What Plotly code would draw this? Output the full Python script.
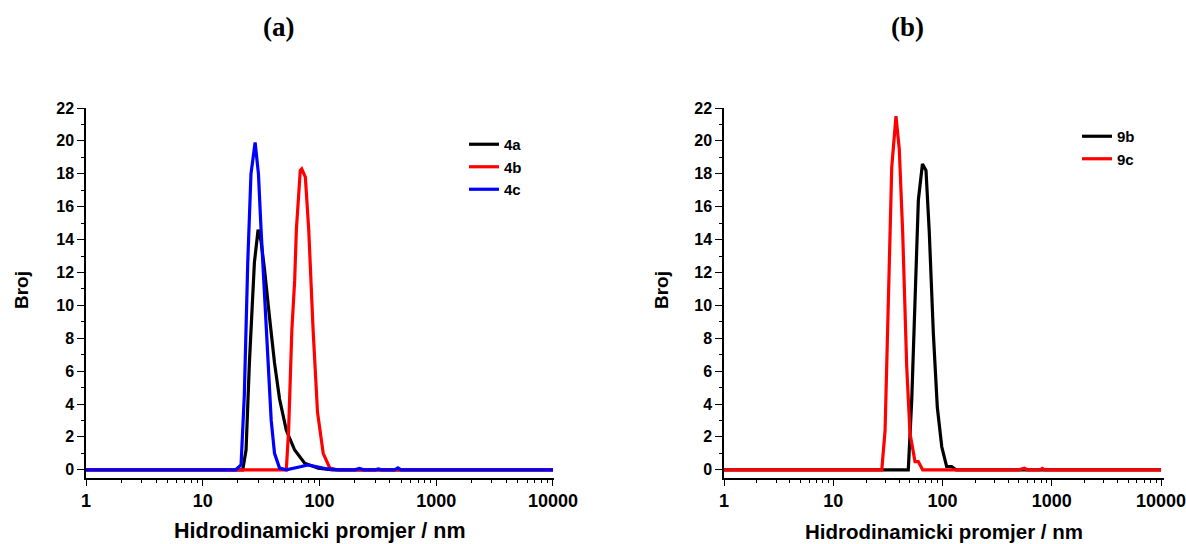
import plotly.graph_objects as go

# ---------------- data ----------------
# Panel (a)
x_4a = [1, 20, 22, 23.5, 25.1, 27.7, 29.8, 31.6, 33.8, 37.3, 41.2, 45.5, 52, 61.3, 74.7, 97.4, 130, 10000]
y_4a = [0, 0, 0, 1.2, 6.5, 12.6, 14.6, 13.9, 12.2, 9.3, 6.5, 4.3, 2.4, 1.2, 0.4, 0.1, 0, 0]

x_4b = [1, 52, 54.4, 58, 61.3, 63.4, 68.5, 70.5, 75.7, 80.9, 88.2, 96.2, 107.6, 122.7, 140, 10000]
y_4b = [0, 0, 2.4, 8.5, 11.5, 14.6, 18.2, 18.3, 17.8, 14.6, 8.5, 3.5, 1.0, 0.1, 0, 0]

x_4c = [1, 19.2, 21.3, 22.7, 24.3, 25.9, 28.1, 30, 31.6, 33.8, 36.1, 38.6, 41.2, 45.5, 52, 60, 70, 79.5,
        94, 117, 150, 200, 220, 240, 300, 320, 340, 440, 470, 500, 10000]
y_4c = [0, 0, 0.3, 4.5, 12.6, 18.0, 19.9, 18.0, 14.6, 10.5, 6.5, 3.0, 1.0, 0.1, 0, 0.08, 0.2, 0.3,
        0.2, 0.05, 0, 0, 0.08, 0, 0, 0.05, 0, 0, 0.12, 0, 0]

# Panel (b)
x_9b = [1, 48.6, 52.3, 56, 60.1, 65.5, 70.6, 75.7, 82.4, 89.6, 98.4, 109, 121, 133, 10000]
y_9b = [0, 0, 4.3, 10.3, 16.4, 18.6, 18.2, 14.4, 8.3, 3.8, 1.4, 0.2, 0.2, 0, 0]

x_9c = [1, 27.8, 29.8, 31.9, 34.3, 37.5, 40.2, 43.2, 47, 50.4, 56, 60, 65.8, 500, 560, 600, 780, 820, 860, 10000]
y_9c = [0, 0, 2.4, 10.3, 18.4, 21.5, 19.5, 14.4, 6.3, 2.2, 0.5, 0.5, 0, 0, 0.1, 0, 0, 0.08, 0, 0]

x_ticks = [1, 10, 100, 1000, 10000]
x_tick_labels = ["1", "10", "100", "1000", "10000"]
y_ticks = list(range(0, 23, 2))
x_minor = [m * 10 ** k for k in range(0, 4) for m in range(2, 10)]

panel_titles = ["(a)", "(b)"]
x_title = "Hidrodinamicki promjer / nm"
y_title = "Broj"

# ---------------- figure ----------------
W, H = 1186, 544
fig = go.Figure()

lw = 3.2
fig.add_trace(go.Scatter(x=x_4a, y=y_4a, mode="lines", name="4a", line=dict(color="#000000", width=lw),
                         xaxis="x", yaxis="y", legend="legend"))
fig.add_trace(go.Scatter(x=x_4b, y=y_4b, mode="lines", name="4b", line=dict(color="#ff0000", width=lw),
                         xaxis="x", yaxis="y", legend="legend"))
fig.add_trace(go.Scatter(x=x_4c, y=y_4c, mode="lines", name="4c", line=dict(color="#0000ff", width=lw),
                         xaxis="x", yaxis="y", legend="legend"))
fig.add_trace(go.Scatter(x=x_9b, y=y_9b, mode="lines", name="9b", line=dict(color="#000000", width=lw),
                         xaxis="x2", yaxis="y2", legend="legend2"))
fig.add_trace(go.Scatter(x=x_9c, y=y_9c, mode="lines", name="9c", line=dict(color="#ff0000", width=lw),
                         xaxis="x2", yaxis="y2", legend="legend2"))

font_family = "Liberation Sans, Arial, sans-serif"


def xaxis(domain_px, rng_end):
    return dict(
        type="log", domain=[domain_px[0] / W, domain_px[1] / W], range=[0, rng_end],
        tickmode="array", tickvals=x_ticks, ticktext=x_tick_labels,
        ticks="outside", ticklen=6, tickwidth=1.3, tickcolor="#000",
        showline=True, linecolor="#000", linewidth=1.5, showgrid=False, zeroline=False,
        automargin=False, ticklabeloverflow="allow",
        tickfont=dict(family=font_family, size=18, color="#000", weight="bold"),
        minor=dict(tickmode="array", tickvals=x_minor, ticks="outside", ticklen=3,
                   tickwidth=1.2, tickcolor="#000", showgrid=False),
    )


def yaxis():
    return dict(
        domain=[1 - 478 / H, 1 - 108 / H], range=[-0.5, 22],
        tickmode="array", tickvals=y_ticks,
        ticks="outside", ticklen=7, tickwidth=1.3, tickcolor="#000",
        showline=True, linecolor="#000", linewidth=1.5, showgrid=False, zeroline=False,
        automargin=False, ticklabeloverflow="allow",
        tickfont=dict(family=font_family, size=16, color="#000", weight="bold"),
        minor=dict(dtick=1, ticks="outside", ticklen=3.5, tickwidth=1.2, tickcolor="#000", showgrid=False),
    )


xa1 = xaxis((86, 554), 4.009)
xa1["anchor"] = "y"
xa2 = xaxis((724, 1164), 4.027)
xa2["anchor"] = "y2"
ya1 = yaxis()
ya1["anchor"] = "x"
ya2 = yaxis()
ya2["anchor"] = "x2"

legend_common = dict(
    font=dict(family=font_family, size=15, color="#000", weight="bold"),
    bgcolor="rgba(0,0,0,0)", borderwidth=0, xanchor="left", yanchor="top",
    tracegroupgap=0, itemwidth=30,
)

fig.update_layout(
    width=W, height=H,
    margin=dict(l=0, r=0, t=0, b=0, autoexpand=False),
    paper_bgcolor="white", plot_bgcolor="white",
    xaxis=xa1, yaxis=ya1, xaxis2=xa2, yaxis2=ya2,
    legend=dict(x=464 / W, y=1 - 128 / H, **legend_common),
    legend2=dict(x=1077 / W, y=1 - 120 / H, **legend_common),
    showlegend=True,
)

annots = []
for cx, t in zip([278, 907], panel_titles):
    annots.append(dict(x=cx / W, y=1 - 27 / H, xref="paper", yref="paper", text=t, showarrow=False,
                       xanchor="center", yanchor="middle",
                       font=dict(family="Liberation Serif, Times New Roman, serif", size=27, color="#000",
                                 weight="bold")))
for cx, fs in zip([320, 944], [21.5, 20.5]):
    annots.append(dict(x=cx / W, y=1 - 531 / H, xref="paper", yref="paper", text=x_title, showarrow=False,
                       xanchor="center", yanchor="middle",
                       font=dict(family=font_family, size=fs, color="#000", weight="bold")))
for cx in [21, 661]:
    annots.append(dict(x=cx / W, y=1 - 290 / H, xref="paper", yref="paper", text=y_title, showarrow=False,
                       textangle=-90, xanchor="center", yanchor="middle",
                       font=dict(family=font_family, size=19, color="#000", weight="bold")))
fig.update_layout(annotations=annots)

post = ("document.documentElement.style.margin='0';document.documentElement.style.padding='0';"
        "document.body.style.margin='0';document.body.style.padding='0';"
        "document.body.style.overflow='hidden';document.documentElement.style.overflow='hidden';")

fig.write_html("out.html", post_script=post, config={"responsive": False, "displayModeBar": False})
